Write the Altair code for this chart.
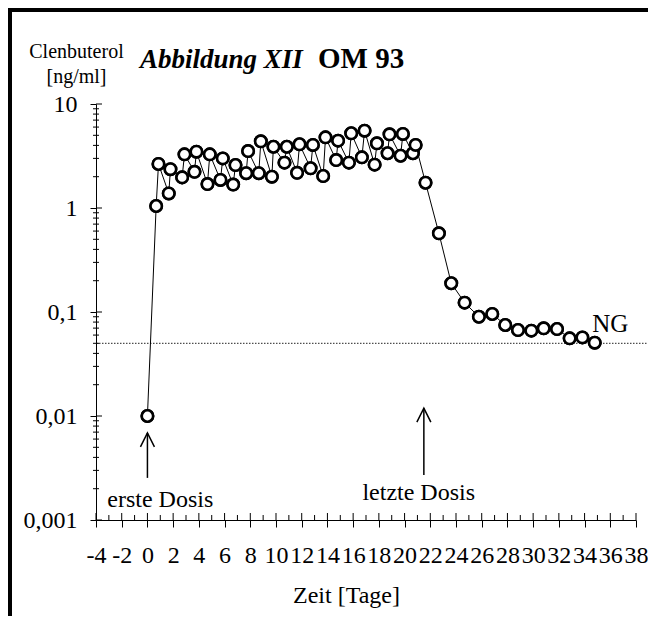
import altair as alt
import pandas as pd

# ---- data ----
t_days = [0, 0.68, 0.86, 1.66, 1.79, 2.70, 2.88, 3.66, 3.81, 4.67, 4.85, 5.68, 5.86,
          6.67, 6.85, 7.68, 7.83, 8.66, 8.82, 9.68, 9.80, 10.66, 10.84, 11.64, 11.83,
          12.69, 12.87, 13.67, 13.85, 14.68, 14.83, 15.67, 15.85, 16.68, 16.89, 17.67,
          17.85, 18.68, 18.83, 19.69, 19.87, 20.65, 20.86, 21.63, 22.67, 23.63, 24.67,
          25.78, 26.82, 27.83, 28.82, 29.86, 30.82, 31.86, 32.84, 33.83, 34.79]
conc = [0.01, 1.045, 2.65, 1.38, 2.36, 1.97, 3.28, 2.23, 3.48, 1.70, 3.28, 1.86, 3.0,
        1.68, 2.59, 2.16, 3.53, 2.16, 4.38, 2.0, 3.88, 2.73, 3.88, 2.18, 4.10,
        2.41, 4.04, 2.03, 4.78, 2.89, 4.44, 2.73, 5.23, 3.07, 5.54, 2.61,
        4.19, 3.36, 5.11, 3.18, 5.15, 3.36, 4.04, 1.75, 0.571, 0.189, 0.123,
        0.090, 0.0957, 0.075, 0.0671, 0.0662, 0.0697, 0.0686, 0.0558, 0.057, 0.0507]

ng_value = 0.05
x_major = list(range(-4, 39, 2))
x_minor = list(range(-3, 38, 2))
y_major = [0.001, 0.01, 0.1, 1, 10]
y_minor = [k * 10.0 ** e for e in range(-3, 1) for k in range(2, 10)]

arrow_x = [0, 21.5]
arrow_tip = [0.00687, 0.0119]
arrow_base = [0.00254, 0.00271]
note_labels = ["erste Dosis", "letzte Dosis"]
note_x = [1.0, 21.1]
note_y = [0.00133, 0.00156]

FONT = "Liberation Serif"

df = pd.DataFrame({"t": t_days, "c": conc, "i": list(range(len(t_days)))})
xs = alt.Scale(domain=[-4, 38], nice=False, zero=False)
ys = alt.Scale(type="log", domain=[0.001, 10], nice=False)

W, H = 540, 416

x_axis = alt.Axis(values=x_major, labelExpr="datum.value < 0 ? '-' + (-datum.value) : '' + datum.value",
                  labelFont=FONT, labelFontSize=24, labelColor="black", labelBaseline="alphabetic",
                  labelPadding=35, labelFlush=False, labelOverlap=False, tickSize=7, tickColor="black",
                  tickWidth=1, domainColor="black", domainWidth=1, grid=False,
                  title="Zeit [Tage]", titleFont=FONT, titleFontSize=24, titleFontWeight="normal",
                  titleColor="black", titleX=250, titleY=82, titleBaseline="alphabetic", titleAlign="center")
y_axis = alt.Axis(values=y_major, labelExpr="replace('' + datum.value, '.', ',')",
                  labelFont=FONT, labelFontSize=24, labelColor="black", labelPadding=13,
                  labelOverlap=False, tickSize=6, tickColor="black", tickWidth=1,
                  domainColor="black", domainWidth=1, grid=False,
                  title=["Clenbuterol", "[ng/ml]"], titleFont=FONT, titleFontSize=20,
                  titleFontWeight="normal", titleColor="black", titleAngle=0, titleAlign="center",
                  titleBaseline="alphabetic", titleX=-20, titleY=-47, titleLineHeight=25)


def X(field):
    return alt.X(field, scale=xs, axis=x_axis)


def Y(field):
    return alt.Y(field, scale=ys, axis=y_axis)


line = alt.Chart(df).mark_line(color="black", strokeWidth=1).encode(
    x=X("t:Q"), y=Y("c:Q"), order="i:Q")

pts = alt.Chart(df).mark_point(shape="circle", filled=True, fill="white", stroke="black",
                               strokeWidth=2.6, size=130, opacity=1).encode(
    x=X("t:Q"), y=Y("c:Q"))

ng_df = pd.DataFrame({"x": [-4], "x2": [38.9], "y": [ng_value]})
ng_rule = alt.Chart(ng_df).mark_rule(color="#222", strokeWidth=1, strokeDash=[1.5, 1.5]).encode(
    x=X("x:Q"), x2="x2:Q", y=Y("y:Q"))

ng_text = alt.Chart(pd.DataFrame({"x": [36.0], "y": [0.0647], "l": ["NG"]})).mark_text(
    font=FONT, fontSize=25, color="black", align="center", baseline="alphabetic").encode(
    x=X("x:Q"), y=Y("y:Q"), text="l:N")

ymin_df = pd.DataFrame({"y": y_minor})
ymaj_df = pd.DataFrame({"y": y_major})
xmin_df = pd.DataFrame({"x": x_minor})
xmaj_df = pd.DataFrame({"x": x_major})

y_minor_ticks = alt.Chart(ymin_df).mark_tick(orient="horizontal", color="black", size=6,
                                             thickness=1, opacity=1).encode(
    y=Y("y:Q"), x=alt.value(0))
y_major_in = alt.Chart(ymaj_df).mark_tick(orient="horizontal", color="black", size=6,
                                          thickness=1, opacity=1).encode(
    y=Y("y:Q"), x=alt.value(3))
x_minor_ticks = alt.Chart(xmin_df).mark_tick(orient="vertical", color="black", size=5,
                                             thickness=1, opacity=1).encode(
    x=X("x:Q"), y=alt.value(H - 2.5))
x_major_in = alt.Chart(xmaj_df).mark_tick(orient="vertical", color="black", size=7,
                                          thickness=1, opacity=1).encode(
    x=X("x:Q"), y=alt.value(H - 3.5))

arr_df = pd.DataFrame({"x": arrow_x, "tip": arrow_tip, "base": arrow_base})
shafts = alt.Chart(arr_df).mark_rule(color="black", strokeWidth=1.5).encode(
    x=X("x:Q"), y=Y("tip:Q"), y2="base:Q")
heads = alt.Chart(arr_df).mark_point(shape="M -0.5 1 L 0 0 L 0.5 1", filled=False, stroke="black",
                                     strokeWidth=1.5, size=784, opacity=1).encode(
    x=X("x:Q"), y=Y("tip:Q"))

notes = alt.Chart(pd.DataFrame({"x": note_x, "y": note_y, "l": note_labels})).mark_text(
    font=FONT, fontSize=24, color="black", align="center", baseline="alphabetic").encode(
    x=X("x:Q"), y=Y("y:Q"), text="l:N")

one = pd.DataFrame({"a": [0]})
title1 = alt.Chart(pd.DataFrame({"l": ["Abbildung XII"]})).mark_text(
    font=FONT, fontSize=27, fontWeight="bold", fontStyle="italic", color="black",
    align="left", baseline="alphabetic").encode(x=alt.value(44), y=alt.value(-36), text="l:N")
title2 = alt.Chart(pd.DataFrame({"l": ["OM 93"]})).mark_text(
    font=FONT, fontSize=29, fontWeight="bold", color="black",
    align="left", baseline="alphabetic").encode(x=alt.value(222), y=alt.value(-36), text="l:N")

frame_top = alt.Chart(one).mark_rule(color="black", strokeWidth=4).encode(
    x=alt.value(-88), x2=alt.value(560), y=alt.value(-94))
frame_left = alt.Chart(one).mark_rule(color="black", strokeWidth=4).encode(
    x=alt.value(-86), y=alt.value(-96), y2=alt.value(520))

chart = alt.layer(
    pts, frame_top, frame_left, ng_rule, line, y_minor_ticks, y_major_in, x_minor_ticks,
    x_major_in, shafts, heads, notes, ng_text, title1, title2, pts
).properties(
    width=W, height=H,
    padding={"left": 88, "top": 96, "right": 12, "bottom": 96},
    autosize=alt.AutoSizeParams(type="none"),
    background="white",
).configure_view(stroke=None)

chart.save("out.html", embed_options={"renderer": "svg", "actions": False})
